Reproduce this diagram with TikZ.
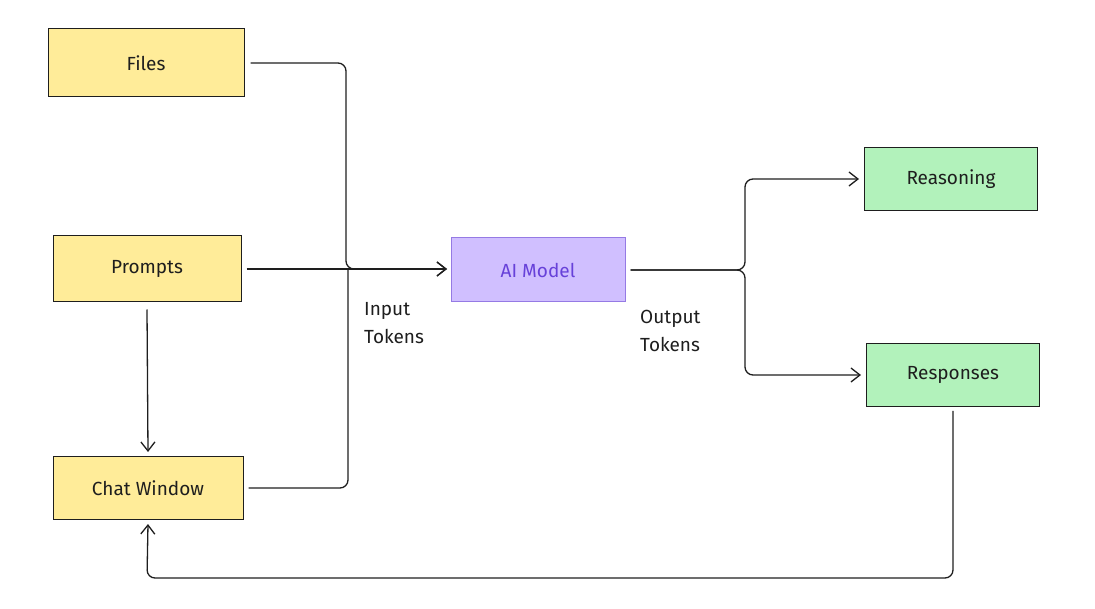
\documentclass[tikz,border=0pt]{standalone}
\usepackage{fontspec}
\setmainfont{Fira Sans}
\usetikzlibrary{arrows.meta}
\definecolor{yel}{HTML}{FFEC99}
\definecolor{grn}{HTML}{B2F2BB}
\definecolor{pur}{HTML}{D0BFFF}
\definecolor{purd}{HTML}{6741D9}
\definecolor{ink}{HTML}{1E1E1E}
\begin{document}
\begin{tikzpicture}[x=1pt,y=-1pt,
  box/.style={draw=ink,line width=1pt,minimum width=#1,inner sep=0pt,font=\fontsize{19}{22}\selectfont,text=ink},
  con/.style={draw=ink,line width=1.3pt,rounded corners=8pt},
  arr/.style={con,-{Straight Barb[length=9pt,width=14pt]}},
  lab/.style={font=\fontsize{19}{28}\selectfont,text=ink,align=left,anchor=north west,inner sep=0pt}]
\useasboundingbox (0,0) rectangle (1095,609);
\node[box=196pt,minimum height=68pt,fill=yel] (files) at (146,63) {Files};
\node[box=188pt,minimum height=66pt,fill=yel] (prompts) at (147,269) {Prompts};
\node[box=190pt,minimum height=63pt,fill=yel] (chat) at (148,488) {Chat Window};
\node[box=174pt,minimum height=64pt,fill=pur,draw=purd!70,text=purd] (ai) at (538,270) {AI Model};
\node[box=173pt,minimum height=63pt,fill=grn] (reas) at (951,179) {Reasoning};
\node[box=173pt,minimum height=63pt,fill=grn] (resp) at (953,375) {Responses};
\coordinate (aiin) at (447,269);
\draw[arr] ([xshift=6pt]files.east) -| (346,250) |- (aiin);
\draw[arr] ([xshift=5pt]prompts.east) -- (aiin);
\draw[con] ([xshift=5pt]chat.east) -| (348,269);
\draw[arr] ([yshift=-7pt]prompts.south) -- ([yshift=4pt]chat.north);
\draw[arr] ([xshift=5pt]ai.east) -| (745,230) |- ([xshift=-5pt]reas.west);
\draw[arr] ([xshift=5pt]ai.east) -| (745,320) |- ([xshift=-5pt]resp.west);
\draw[arr] ([yshift=-4pt]resp.south) |- (147,578) -- ([yshift=-4pt]chat.south);
\node[lab] (in) at (364,302) {Input\\Tokens};
\node[lab] (out) at (640,310) {Output\\Tokens};
\end{tikzpicture}
\end{document}
